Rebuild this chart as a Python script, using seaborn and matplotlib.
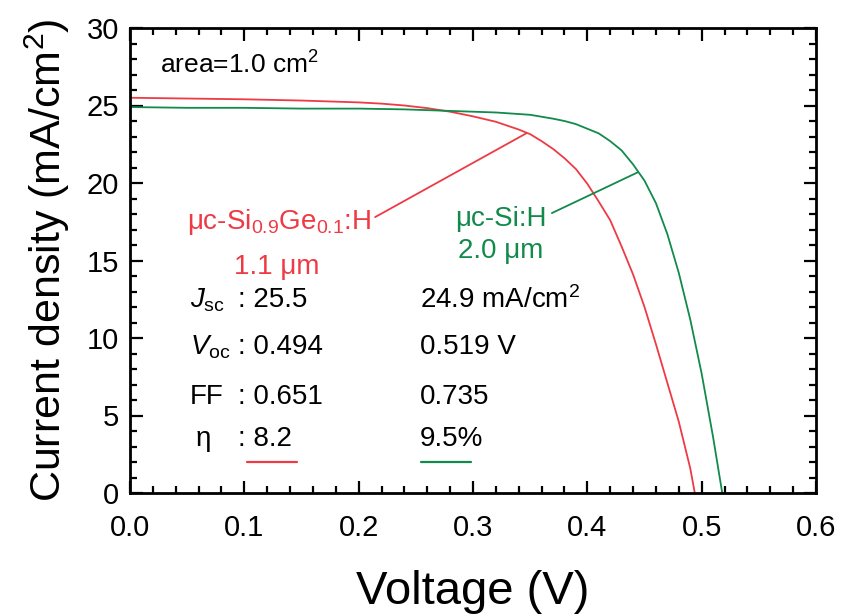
import matplotlib
matplotlib.use("Agg")
import matplotlib.pyplot as plt
from matplotlib.ticker import MultipleLocator
import seaborn as sns
import pandas as pd

# ---- data ----
v_sige = [0.00, 0.05, 0.10, 0.15, 0.20, 0.22, 0.24, 0.26, 0.28, 0.30, 0.32, 0.34, 0.35, 0.36, 0.37,
          0.38, 0.39, 0.40, 0.41, 0.42, 0.43, 0.44, 0.45, 0.46, 0.47, 0.48, 0.49, 0.494]
j_sige = [25.5, 25.45, 25.4, 25.32, 25.2, 25.12, 25.0, 24.83, 24.6, 24.3, 23.95, 23.45, 23.15, 22.7, 22.2,
          21.6, 20.9, 19.95, 18.8, 17.6, 15.9, 14.1, 12.0, 9.6, 7.1, 4.6, 1.6, 0.0]

v_si = [0.00, 0.05, 0.10, 0.15, 0.20, 0.24, 0.28, 0.32, 0.35, 0.37, 0.38, 0.39, 0.40, 0.41,
        0.42, 0.43, 0.44, 0.45, 0.46, 0.47, 0.48, 0.49, 0.50, 0.51, 0.518]
j_si = [24.9, 24.85, 24.85, 24.8, 24.8, 24.75, 24.65, 24.55, 24.4, 24.15, 24.0, 23.8, 23.5, 23.2,
        22.7, 22.1, 21.2, 20.15, 18.7, 16.7, 14.2, 11.2, 7.7, 3.6, 0.0]

labels = ["SiGe", "Si"]
col_sige = "#EE3A45"
col_si = "#118A4B"

x_ticks = [0.0, 0.1, 0.2, 0.3, 0.4, 0.5, 0.6]
x_ticklabels = ["0.0", "0.1", "0.2", "0.3", "0.4", "0.5", "0.6"]
y_ticks = [0, 5, 10, 15, 20, 25, 30]

df = pd.DataFrame({
    "V": v_sige + v_si,
    "J": j_sige + j_si,
    "cell": [labels[0]] * len(v_sige) + [labels[1]] * len(v_si),
})

sns.set_style("ticks")
plt.rcParams["font.family"] = ["Liberation Sans", "DejaVu Sans"]
plt.rcParams["mathtext.fontset"] = "custom"
plt.rcParams["mathtext.rm"] = "Liberation Sans"
plt.rcParams["mathtext.it"] = "Liberation Sans:italic"
plt.rcParams["text.color"] = "black"
plt.rcParams["axes.labelcolor"] = "black"
plt.rcParams["xtick.color"] = "black"
plt.rcParams["ytick.color"] = "black"
plt.rcParams["axes.edgecolor"] = "black"

fig = plt.figure(figsize=(8.52, 6.16), dpi=100)
ax = fig.add_axes([130 / 852, 1 - 493 / 616, (816 - 130) / 852, (493 - 28) / 616])

sns.lineplot(data=df, x="V", y="J", hue="cell", palette={labels[0]: col_sige, labels[1]: col_si},
             ax=ax, legend=False, linewidth=1.3, sort=False, estimator=None)

ax.set_xlim(0, 0.6)
ax.set_ylim(0, 30)
ax.set_xticks(x_ticks)
ax.set_xticklabels(x_ticklabels)
ax.set_yticks(y_ticks)
ax.xaxis.set_minor_locator(MultipleLocator(0.02))
ax.yaxis.set_minor_locator(MultipleLocator(1))
ax.tick_params(which="both", direction="in", top=True, right=True, width=1.6, labelsize=21)
ax.tick_params(axis="x", pad=15)
ax.tick_params(axis="y", pad=8)
ax.tick_params(which="major", length=9)
ax.tick_params(which="minor", length=5)
for s in ax.spines.values():
    s.set_linewidth(2)
ax.set_xlabel("Voltage (V)", fontsize=34, labelpad=20)
ax.set_ylabel("Current density (mA/cm$^2$)", fontsize=31, labelpad=10)

# annotations
fs = 20
ax.text(0.026, 27.6, "area=1.0 cm$^2$", fontsize=19, va="center", ha="left")

ax.text(0.130, 17.5, "μc-Si$_{0.9}$Ge$_{0.1}$:H", fontsize=fs, color=col_sige, va="center", ha="center")
ax.text(0.1286, 14.6, "1.1 μm", fontsize=fs, color=col_sige, va="center", ha="center")
ax.plot([0.2144, 0.3465], [17.8, 23.2], color=col_sige, lw=1.3)

ax.text(0.3246, 17.7, "μc-Si:H", fontsize=fs, color=col_si, va="center", ha="center")
ax.text(0.3246, 15.6, "2.0 μm", fontsize=fs, color=col_si, va="center", ha="center")
ax.plot([0.369, 0.4444], [18.06, 20.7], color=col_si, lw=1.3)

rows_y = [12.45, 9.42, 6.19, 3.5]
names = [r"$J_{\rm sc}$", r"$V_{\rm oc}$", "FF", "η"]
col1 = [": 25.5", ": 0.494", ": 0.651", ": 8.2"]
col2 = ["24.9 mA/cm$^2$", "0.519 V", "0.735", "9.5%"]
name_x = [0.0525, 0.0525, 0.0525, 0.057]
for y, n, nx, a, b in zip(rows_y, names, name_x, col1, col2):
    ax.text(nx, y, n, fontsize=20, va="center", ha="left")
    ax.text(0.0945, y, a, fontsize=20, va="center", ha="left")
    ax.text(0.2537, y, b, fontsize=20, va="center", ha="left")
ax.plot([0.1024, 0.1461], [2.0, 2.0], color=col_sige, lw=1.6)
ax.plot([0.2546, 0.2983], [2.0, 2.0], color=col_si, lw=1.6)

fig.savefig("out.png", dpi=100)
